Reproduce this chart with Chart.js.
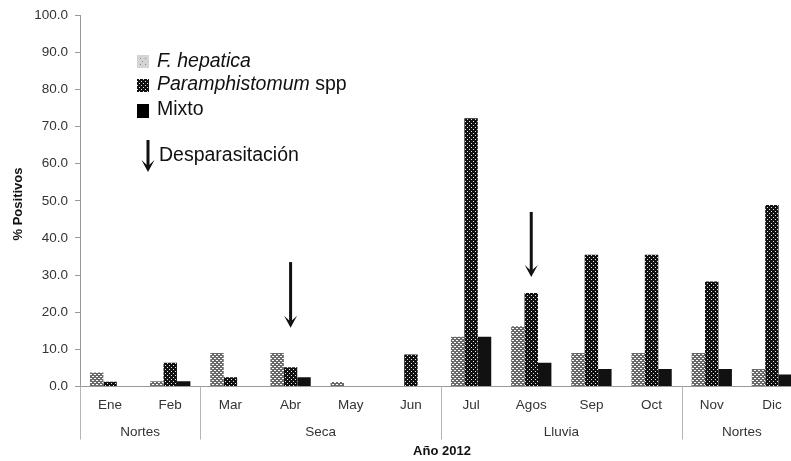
<!DOCTYPE html>
<html>
<head>
<meta charset="utf-8">
<script src="https://cdn.jsdelivr.net/npm/chart.js@4.4.1/dist/chart.umd.min.js"></script>
<style>
  html, body { margin: 0; padding: 0; background: #fff; overflow: hidden; }
  #wrap { width: 791px; height: 461px; overflow: hidden; }
  canvas { display: block; }
</style>
</head>
<body>
<div id="wrap"><canvas id="chart" width="812" height="461"></canvas></div>
<script>
// data
const months = ['Ene', 'Feb', 'Mar', 'Abr', 'May', 'Jun', 'Jul', 'Agos', 'Sep', 'Oct', 'Nov', 'Dic'];
const seasons = ['Nortes', 'Seca', 'Lluvia', 'Nortes'];
const seasonStart = [0, 2, 6, 10];
const seasonEnd = [1, 5, 9, 11];
const fHepatica = [3.8, 1.4, 9.0, 9.0, 1.2, 0, 13.4, 16.2, 9.0, 9.0, 9.0, 4.7];
const paramphistomum = [1.3, 6.4, 2.5, 5.2, 0, 8.6, 72.2, 25.2, 35.5, 35.5, 28.3, 48.9];
const mixto = [0, 1.4, 0, 2.5, 0, 0, 13.4, 6.4, 4.7, 4.7, 4.7, 3.2];
const arrowMonths = ['Abr', 'Agos'];
const arrowFrom = [33.5, 47.0];
const arrowTo = [15.8, 29.5];

const FONT = '"Liberation Sans", Arial, Helvetica, sans-serif';

function makePattern(kind) {
    const c = document.createElement('canvas');
    c.width = 4; c.height = 4;
    const g = c.getContext('2d');
    if (kind === 'hatch') {
        g.fillStyle = '#6a6a6a';
        g.fillRect(0, 0, 4, 4);
        g.fillStyle = '#fff';
        [[0,0],[1,0],[2,2],[3,2]].forEach(p => g.fillRect(p[0], p[1], 1, 1));
    } else {
        g.fillStyle = '#111';
        g.fillRect(0, 0, 4, 4);
        g.fillStyle = '#e8e8e8';
        g.fillRect(1, 1, 1, 1);
        g.fillRect(3, 3, 1, 1);
    }
    return document.createElement('canvas').getContext('2d').createPattern(c, 'repeat');
}

const hatch = makePattern('hatch');
const dots = makePattern('dots');

function arrow(ctx, x, y1, y2) {
    ctx.save();
    ctx.strokeStyle = '#111';
    ctx.fillStyle = '#111';
    ctx.lineWidth = 3;
    ctx.beginPath();
    ctx.moveTo(x, y1);
    ctx.lineTo(x, y2 - 6);
    ctx.stroke();
    ctx.beginPath();
    ctx.moveTo(x - 6.5, y2 - 12);
    ctx.lineTo(x, y2);
    ctx.lineTo(x + 6.5, y2 - 12);
    ctx.lineTo(x, y2 - 6);
    ctx.closePath();
    ctx.fill();
    ctx.restore();
}

const extras = {
    id: 'extras',
    afterDraw(chart) {
        const ctx = chart.ctx;
        const x = chart.scales.x;
        const y = chart.scales.y;
        const base = y.getPixelForValue(0);
        const step = x.getPixelForValue(1) - x.getPixelForValue(0);

        // season separators and labels
        ctx.save();
        ctx.strokeStyle = '#b5b5b5';
        ctx.lineWidth = 1;
        seasonStart.forEach(i => {
            const px = Math.round(x.getPixelForValue(i) - step / 2) + 0.5;
            ctx.beginPath();
            ctx.moveTo(px, base);
            ctx.lineTo(px, base + 53);
            ctx.stroke();
        });
        ctx.fillStyle = '#333';
        ctx.font = '13.5px ' + FONT;
        ctx.textAlign = 'center';
        ctx.textBaseline = 'middle';
        seasons.forEach((s, k) => {
            const cx = (x.getPixelForValue(seasonStart[k]) + x.getPixelForValue(seasonEnd[k])) / 2;
            ctx.fillText(s, cx, base + 45.5);
        });
        ctx.fillStyle = '#111';
        ctx.font = 'bold 13px ' + FONT;
        ctx.fillText('Año 2012', (chart.chartArea.left + chart.chartArea.right) / 2 + 1, base + 65);

        // y title
        ctx.translate(18, 204);
        ctx.rotate(-Math.PI / 2);
        ctx.font = 'bold 13px ' + FONT;
        ctx.fillText('% Positivos', 0, 0);
        ctx.restore();

        // deworming arrows
        arrowMonths.forEach((m, k) => {
            const px = x.getPixelForValue(months.indexOf(m));
            arrow(ctx, px, y.getPixelForValue(arrowFrom[k]), y.getPixelForValue(arrowTo[k]));
        });

        // legend
        ctx.save();
        ctx.fillStyle = '#d4d4d4';
        ctx.fillRect(137, 55, 12, 13);
        ctx.fillStyle = '#888';
        [[140, 58], [145, 58], [142, 61], [140, 64], [145, 64]].forEach(p => ctx.fillRect(p[0], p[1], 1, 1));
        ctx.fillStyle = dots;
        ctx.fillRect(137, 79, 12, 13);
        ctx.fillStyle = '#000';
        ctx.fillRect(137, 104, 12, 14);
        ctx.textAlign = 'left';
        ctx.textBaseline = 'middle';
        ctx.fillStyle = '#111';
        ctx.font = 'italic 19.5px ' + FONT;
        ctx.fillText('F. hepatica', 157, 62);
        ctx.fillText('Paramphistomum', 157, 85);
        const w = ctx.measureText('Paramphistomum ').width;
        ctx.font = '19.5px ' + FONT;
        ctx.fillText('spp', 157 + w, 85);
        ctx.fillText('Mixto', 157, 109.5);
        ctx.fillText('Desparasitación', 159, 156);
        ctx.restore();
        arrow(ctx, 148, 140, 172);
    }
};

new Chart(document.getElementById('chart'), {
    type: 'bar',
    data: {
        labels: months,
        datasets: [
            { label: 'F. hepatica', data: fHepatica, backgroundColor: hatch },
            { label: 'Paramphistomum spp', data: paramphistomum, backgroundColor: dots },
            { label: 'Mixto', data: mixto, backgroundColor: '#111' }
        ]
    },
    options: {
        responsive: false,
        animation: false,
        layout: { padding: { top: 15, right: 10, bottom: 0, left: 0 } },
        datasets: { bar: { categoryPercentage: 0.67, barPercentage: 1.0 } },
        plugins: { legend: { display: false }, tooltip: { enabled: false } },
        scales: {
            x: {
                grid: { display: false, drawTicks: false },
                border: { display: true, color: '#999' },
                ticks: { color: '#333', font: { size: 13.5, family: FONT }, padding: 11, maxRotation: 0 },
                afterFit(scale) { scale.height = 74.5; }
            },
            y: {
                min: 0,
                max: 100,
                grid: { display: true, drawOnChartArea: false, drawTicks: true, tickLength: 5, color: '#999' },
                border: { display: true, color: '#999' },
                ticks: {
                    stepSize: 10,
                    color: '#333',
                    padding: 7,
                    font: { size: 13.5, family: FONT },
                    callback: v => v.toFixed(1)
                },
                afterFit(scale) { scale.width = 80; }
            }
        }
    },
    plugins: [extras]
});
</script>
</body>
</html>
